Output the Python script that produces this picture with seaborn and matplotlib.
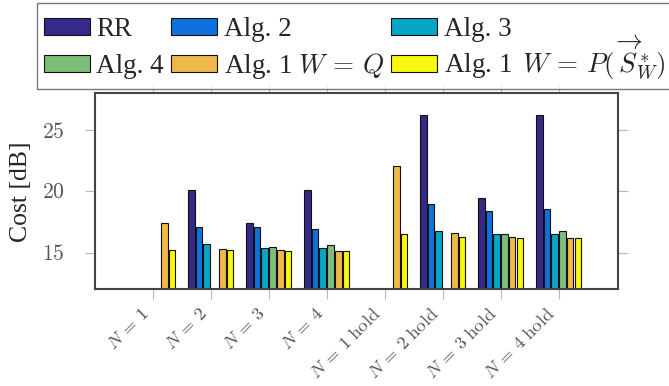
import numpy as np
import pandas as pd
import matplotlib
matplotlib.use("Agg")
import matplotlib.pyplot as plt
import seaborn as sns

# Categories and series values (cost in dB), NaN = not run
categories = [r'$N\,=\,1$', r'$N\,=\,2$', r'$N\,=\,3$', r'$N\,=\,4$',
              r'$N\,=\,1\ \mathrm{hold}$', r'$N\,=\,2\ \mathrm{hold}$',
              r'$N\,=\,3\ \mathrm{hold}$', r'$N\,=\,4\ \mathrm{hold}$']
series_names = ['RR', 'Alg. 2', 'Alg. 3', 'Alg. 4',
                r'Alg. 1 $W\,=\,Q$',
                r'Alg. 1 $\,W\,=\,P(\,\overrightarrow{S}^*_W)$']
rr = [np.nan, 20.15, 17.45, 20.15, np.nan, 26.2, 19.45, 26.2]
alg2 = [np.nan, 17.1, 17.05, 16.9, np.nan, 19.0, 18.4, 18.6]
alg3 = [np.nan, 15.7, 15.35, 15.35, np.nan, 16.8, 16.5, 16.55]
alg4 = [np.nan, np.nan, 15.45, 15.65, np.nan, np.nan, 16.55, 16.8]
alg1_q = [17.4, 15.3, 15.2, 15.15, 22.05, 16.6, 16.3, 16.15]
alg1_p = [15.25, 15.2, 15.15, 15.15, 16.5, 16.25, 16.2, 16.15]
colors = ['#352a87', '#0d72dc', '#06a6c6', '#7dbf7a', '#f1b84a', '#f8f80f']

# Long-form table for seaborn
rows = []
for name, vals in zip(series_names, [rr, alg2, alg3, alg4, alg1_q, alg1_p]):
    for cat, v in zip(categories, vals):
        if not np.isnan(v):
            rows.append({'case': cat, 'alg': name, 'cost': v})
df = pd.DataFrame(rows)

sns.set_style("ticks")
plt.rcParams['font.family'] = ['Liberation Serif', 'DejaVu Serif']
plt.rcParams['mathtext.fontset'] = 'cm'

DPI = 100
fig = plt.figure(figsize=(6.69, 3.86), dpi=DPI)
ax = fig.add_axes([0.1416, 0.2505, 0.7817, 0.5075])

sns.barplot(data=df, x='case', y='cost', hue='alg', order=categories,
            hue_order=series_names, palette=colors, saturation=1,
            errorbar=None, width=0.8, gap=0.14, edgecolor='#111111',
            linewidth=0.8, ax=ax)

ax.set_xlim(-1, 8.02)
ax.set_ylim(12, 28)
ax.set_yticks([15, 20, 25])
ax.set_yticklabels(['$15$', '$20$', '$25$'])
ax.set_xlabel('')
ax.set_ylabel('Cost [dB]', fontsize=18.5)
ax.yaxis.set_label_coords(-0.12, 0.5)

ax.tick_params(axis='both', direction='out', length=7.5, width=0.8,
               color='#b8b8b8', labelcolor='#555555', labelsize=15.5,
               top=True, right=True)
ax.tick_params(axis='y', pad=14)
ax.tick_params(axis='x', pad=4, labelsize=13.3)
for lab in ax.get_xticklabels():
    lab.set_rotation(45)
    lab.set_ha('right')
    lab.set_va('top')

for sp in ax.spines.values():
    sp.set_visible(True)
    sp.set_color('#444444')
    sp.set_linewidth(1.5)

# Legend in column-major order to get the 3x2 layout
handles, labels = ax.get_legend_handles_labels()
ax.get_legend().remove()
order = [0, 3, 1, 4, 2, 5]
# blank tiny title only adds some room above the first row
leg = fig.legend([handles[i] for i in order], [labels[i] for i in order],
                 ncol=3, loc='upper left', bbox_to_anchor=(0.055, 0.991),
                 borderaxespad=0, fontsize=19.5, frameon=True, fancybox=False,
                 edgecolor='#555555', handlelength=1.7, handleheight=0.6,
                 handletextpad=0.25, columnspacing=0.25, labelspacing=0.22,
                 borderpad=0.25, title=' ', title_fontsize=1)
leg.get_frame().set_linewidth(1.0)

# make every column use the same row pitch (the tall math label would
# otherwise push its row down)
row_pitch = 37  # px
fig.canvas.draw()
cols = leg._legend_handle_box.get_children()
patches = leg.get_patches()
for c, col in enumerate(cols):
    top1 = patches[2 * c].get_window_extent().y1
    top2 = patches[2 * c + 1].get_window_extent().y1
    col.sep += (row_pitch - (top1 - top2)) * 72 / DPI

fig.savefig('out.png', dpi=DPI)
